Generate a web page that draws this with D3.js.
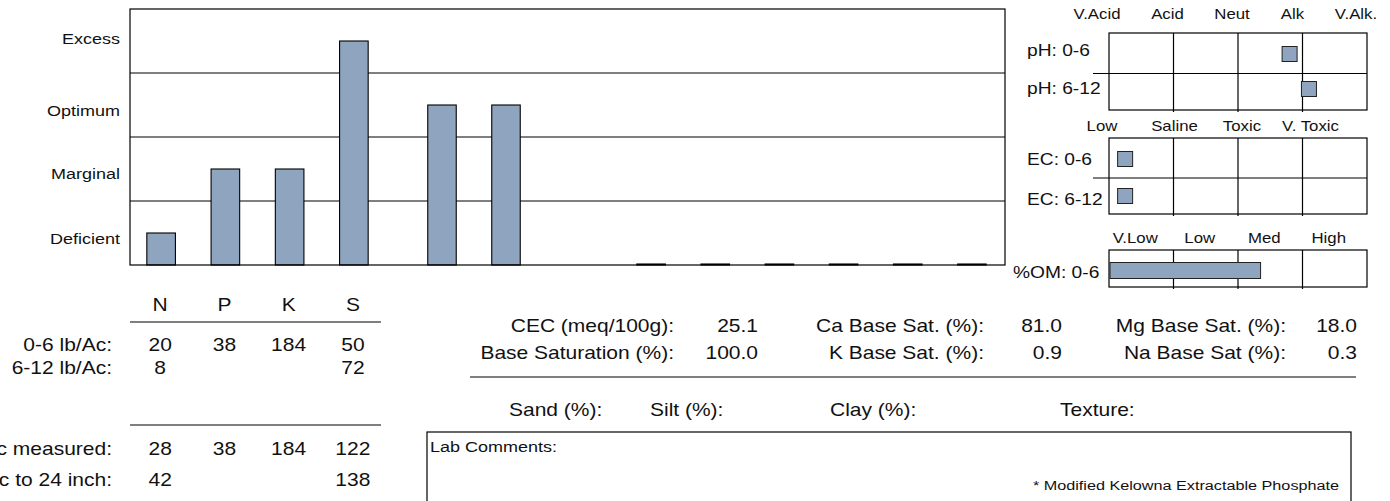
<!DOCTYPE html>
<html>
<head>
<meta charset="utf-8">
<script src="https://cdn.jsdelivr.net/npm/d3@7"></script>
<style>
  body { margin: 0; background: #fff; }
  svg { display: block; }
  text { font-family: "Liberation Sans", Arial, sans-serif; fill: #111; }
</style>
</head>
<body>
<div id="report"></div>
<script>
// soil test summary chart

// nutrient level bars (level units: 0 = bottom of Deficient, 4 = top of Excess)
var levelNames = ["Deficient", "Marginal", "Optimum", "Excess"];
var macroNutrients = ["N", "P", "K", "S"];
var macroLevels = [0.5, 1.5, 1.5, 3.5];
var secondaryNutrients = ["Ca", "Mg"];
var secondaryLevels = [2.5, 2.5];
var microNutrients = ["Zn", "Fe", "Mn", "Cu", "B", "Cl"];
var microLevels = [0, 0, 0, 0, 0, 0];

// lb/Ac table
var depthRowLabels = ["0-6 lb/Ac:", "6-12 lb/Ac:"];
var depthRowValues = [[20, 38, 184, 50], [8, null, null, 72]];
var totalRowLabels = ["Total lb/Ac measured:", "Est. lb/Ac to 24 inch:"];
var totalRowValues = [[28, 38, 184, 122], [42, null, null, 138]];

// pH / EC / OM panels
var phClasses = ["V.Acid", "Acid", "Neut", "Alk", "V.Alk."];
var phRows = ["pH: 0-6", "pH: 6-12"];
var phValues = [7.8, 8.1];
var ecClasses = ["Low", "Saline", "Toxic", "V. Toxic"];
var ecRows = ["EC: 0-6", "EC: 6-12"];
var ecValues = [0.25, 0.25];
var omClasses = ["V.Low", "Low", "Med", "High"];
var omRows = ["%OM: 0-6"];
var omValues = [2.35];

// base saturation block
var satLabels = [["CEC (meq/100g):", "Ca Base Sat. (%):", "Mg Base Sat. (%):"],
                 ["Base Saturation (%):", "K Base Sat. (%):", "Na Base Sat (%):"]];
var satValues = [[25.1, 81.0, 18.0], [100.0, 0.9, 0.3]];
var textureLabels = ["Sand (%):", "Silt (%):", "Clay (%):", "Texture:"];
var commentTitle = "Lab Comments:";
var footnote = "* Modified Kelowna Extractable Phosphate";

var svgWidth = 1390;
var svgHeight = 501;
var SX = 1.2;           // text in the report is a little wide
var barColor = "#8FA4BF";

var svg = d3.select("#report")
  .append("svg")
  .attr("width", svgWidth)
  .attr("height", svgHeight);

function txt(g, x, y, s, anchor, size) {
  return g.append("text")
    .attr("transform", `translate(${x},${y}) scale(${SX},1)`)
    .attr("text-anchor", anchor)
    .attr("dy", "0.35em")
    .style("font-size", size + "px")
    .text(s);
}

function hline(g, x1, x2, y) {
  g.append("line").attr("x1", x1).attr("x2", x2).attr("y1", y).attr("y2", y)
    .attr("stroke", "#000").attr("stroke-width", 1.2);
}

// ---------- main level chart ----------
var chart = {left: 130, top: 9, right: 1005, bottom: 265};
var yLevel = d3.scaleLinear().domain([0, 4]).range([chart.bottom, chart.top]);

var mainG = svg.append("g");

// level gridlines
mainG.selectAll("line.grid")
  .data([1, 2, 3])
  .join("line")
  .attr("class", "grid")
  .attr("x1", chart.left).attr("x2", chart.right)
  .attr("y1", d => yLevel(d)).attr("y2", d => yLevel(d))
  .attr("stroke", "#000").attr("stroke-width", 1.2);

// level labels
var levelShift = [6, 5, 6, -2];
levelNames.forEach(function(name, i) {
  txt(mainG, 120, yLevel(i + 0.5) + levelShift[i], name, "end", 15);
});

// three groups of bars, each its own band scale
var groups = [
  {names: macroNutrients, levels: macroLevels, range: [129, 386]},
  {names: secondaryNutrients, levels: secondaryLevels, range: [410, 538]},
  {names: microNutrients, levels: microLevels, range: [619, 1004]}
];
groups.forEach(function(grp) {
  grp.x = d3.scaleBand()
    .domain(grp.names)
    .range(grp.range)
    .paddingInner(0.555)
    .paddingOuter(0.2775);
  var rows = grp.names.map((n, i) => ({name: n, level: grp.levels[i]}));
  mainG.append("g")
    .selectAll("rect")
    .data(rows)
    .join("rect")
    .attr("x", d => grp.x(d.name))
    .attr("width", grp.x.bandwidth())
    .attr("y", d => Math.min(yLevel(d.level), chart.bottom - 1))
    .attr("height", d => Math.max(chart.bottom - yLevel(d.level), 1))
    .attr("fill", barColor)
    .attr("stroke", "#000")
    .attr("stroke-width", 1.1);
});

mainG.append("rect")
  .attr("x", chart.left).attr("y", chart.top)
  .attr("width", chart.right - chart.left).attr("height", chart.bottom - chart.top)
  .attr("fill", "none").attr("stroke", "#000").attr("stroke-width", 1.2);

// ---------- lb/Ac table under the bars ----------
var xMacro = groups[0].x;
var colX = d => xMacro(d) + xMacro.bandwidth() / 2 - 1;
var tableG = svg.append("g");

macroNutrients.forEach(function(n) { txt(tableG, colX(n), 305, n, "middle", 17.5); });
hline(tableG, 130, 381, 322);
hline(tableG, 130, 381, 425);

function tableRows(labels, values, ys) {
  labels.forEach(function(lab, r) {
    txt(tableG, 112, ys[r], lab, "end", 17.5);
    values[r].forEach(function(v, c) {
      if (v !== null) txt(tableG, colX(macroNutrients[c]), ys[r], v, "middle", 17.5);
    });
  });
}
tableRows(depthRowLabels, depthRowValues, [345, 368]);
tableRows(totalRowLabels, totalRowValues, [449, 480]);

// ---------- pH / EC / OM panels ----------
var panelG = svg.append("g");
var panelLeft = 1109, panelRight = 1367;

function drawPanel(cfg) {
  var x = d3.scaleLinear().domain(cfg.domain).range([panelLeft, panelRight]);
  var cols = d3.range(cfg.domain[0], cfg.domain[1] + 1);
  // outer box + column lines
  panelG.append("rect")
    .attr("x", panelLeft).attr("y", cfg.top)
    .attr("width", panelRight - panelLeft).attr("height", cfg.bottom - cfg.top)
    .attr("fill", "none").attr("stroke", "#000").attr("stroke-width", 1.2);
  panelG.append("g").selectAll("line")
    .data(cols.slice(1, -1))
    .join("line")
    .attr("x1", d => x(d)).attr("x2", d => x(d))
    .attr("y1", cfg.top).attr("y2", cfg.bottom + 2)
    .attr("stroke", "#000").attr("stroke-width", 1.2);
  // row separators reach out past the box
  cfg.rowEdges.slice(1, -1).forEach(function(y) { hline(panelG, 1093, panelRight, y); });
  // class headings
  cfg.classes.forEach(function(c, i) {
    txt(panelG, cfg.headX(x, i), cfg.headY, c, "middle", 14);
  });
  cfg.rows.forEach(function(lab, i) {
    txt(panelG, cfg.labelX, cfg.labelY[i], lab, "start", 16);
  });
  cfg.draw(x);
}

drawPanel({
  domain: [5, 9], top: 33, bottom: 110, rowEdges: [33, 73.5, 110],
  classes: phClasses, headY: 14,
  headX: (x, i) => x(5 + i) + [-12, -6, -6, -10, -11][i],
  rows: phRows, labelX: 1027, labelY: [50, 88],
  draw: function(x) {
    panelG.append("g").selectAll("rect")
      .data(phValues)
      .join("rect")
      .attr("x", d => x(d) - 7.5).attr("y", (d, i) => [46.5, 81.5][i])
      .attr("width", 15).attr("height", 15)
      .attr("fill", barColor).attr("stroke", "#222").attr("stroke-width", 1);
  }
});

drawPanel({
  domain: [0, 4], top: 138, bottom: 214, rowEdges: [138, 178, 214],
  classes: ecClasses, headY: 126,
  headX: (x, i) => x(i) + [-7, 1, 4, 8][i],
  rows: ecRows, labelX: 1027, labelY: [159, 199],
  draw: function(x) {
    panelG.append("g").selectAll("rect")
      .data(ecValues)
      .join("rect")
      .attr("x", d => x(d) - 7.5).attr("y", (d, i) => [151.5, 188.5][i])
      .attr("width", 15).attr("height", 15)
      .attr("fill", barColor).attr("stroke", "#222").attr("stroke-width", 1);
  }
});

drawPanel({
  domain: [0, 4], top: 250, bottom: 287, rowEdges: [250, 287],
  classes: omClasses, headY: 238,
  headX: (x, i) => x(i + 0.5) - 6,
  rows: omRows, labelX: 1013, labelY: [272],
  draw: function(x) {
    panelG.append("g").selectAll("rect")
      .data(omValues)
      .join("rect")
      .attr("x", x(0) + 1).attr("y", 262.5)
      .attr("width", d => x(d) - x(0) - 1).attr("height", 16)
      .attr("fill", barColor).attr("stroke", "#222").attr("stroke-width", 1);
  }
});

// ---------- base saturation / texture block ----------
var satG = svg.append("g");
var fmt = d3.format(".1f");
var labelRight = [674, 984, 1286];
var valueRight = [758, 1062, 1357];
var satRowY = [326, 353];
satLabels.forEach(function(row, r) {
  row.forEach(function(lab, c) {
    txt(satG, labelRight[c], satRowY[r], lab, "end", 17.5);
    txt(satG, valueRight[c], satRowY[r], fmt(satValues[r][c]), "end", 17.5);
  });
});
hline(satG, 470, 1356, 377);

var textureX = [509, 650, 830, 1060];
textureLabels.forEach(function(lab, i) {
  txt(satG, textureX[i], 410, lab, "start", 17.5);
});

// comments box
satG.append("rect")
  .attr("x", 427).attr("y", 432)
  .attr("width", 1351 - 427).attr("height", 100)
  .attr("fill", "none").attr("stroke", "#000").attr("stroke-width", 1.2);
txt(satG, 430, 447, commentTitle, "start", 15);
txt(satG, 1339, 485, footnote, "end", 13.5);
</script>
</body>
</html>
